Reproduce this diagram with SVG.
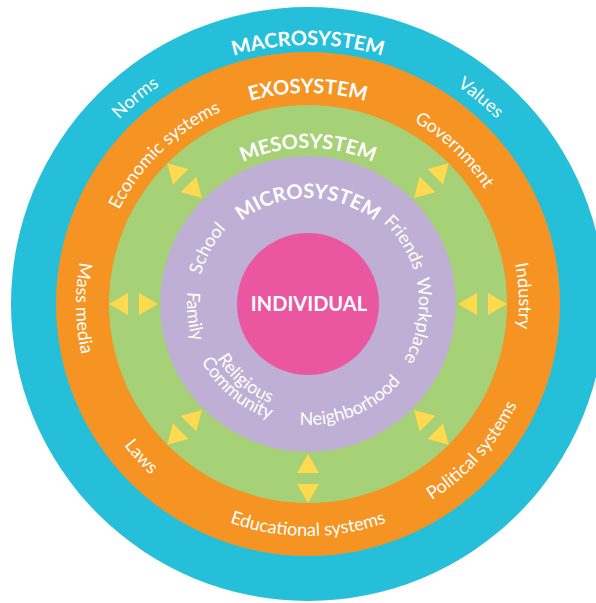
<svg xmlns="http://www.w3.org/2000/svg" xmlns:xlink="http://www.w3.org/1999/xlink" width="596" height="603" viewBox="0 0 596 603">
  <style>
    .head { font-family: Lato, "Liberation Sans", sans-serif; font-weight: 700; font-size: 20px; fill: #ffffff; }
    .lab { font-family: Lato, "Liberation Sans", sans-serif; font-weight: 400; font-size: 18px; fill: #ffffff; }
    .arrow { fill: #FFD94E; }
  </style>
  <defs>
    <!-- clockwise circles, start at bottom (top = 50%) -->
    <path id="cw259" d="M308,563 A259,259 0 1 1 308,45 A259,259 0 1 1 308,563"/>
    <path id="cw264" d="M308,568 A264,264 0 1 1 308,40 A264,264 0 1 1 308,568"/>
    <path id="cw211" d="M308,515 A211,211 0 1 1 308,93 A211,211 0 1 1 308,515"/>
    <path id="cw156" d="M308,460 A156,156 0 1 1 308,148 A156,156 0 1 1 308,460"/>
    <path id="cw106" d="M308,410 A106,106 0 1 1 308,198 A106,106 0 1 1 308,410"/>
    <path id="cw111" d="M308,415 A111,111 0 1 1 308,193 A111,111 0 1 1 308,415"/>
    <!-- counter-clockwise circles, start at top (bottom = 50%) -->
    <path id="ccw232" d="M308,72 A232,232 0 1 0 308,536 A232,232 0 1 0 308,72"/>
    <path id="ccw121" d="M308,183 A121,121 0 1 0 308,425 A121,121 0 1 0 308,183"/>
    <path id="ccw106" d="M308,198 A106,106 0 1 0 308,410 A106,106 0 1 0 308,198"/>
    <g id="pair">
      <polygon class="arrow" points="297,473 319,473 308,454"/>
      <polygon class="arrow" points="297,484 319,484 308,503"/>
    </g>
  </defs>

  <g id="macrosystem">
    <circle cx="308" cy="304" r="297" fill="#26BFD9"/>
    <text class="head"><textPath href="#cw259" startOffset="50%" text-anchor="middle">MACROSYSTEM</textPath></text>
    <text class="lab"><textPath href="#cw264" startOffset="38.9%" text-anchor="middle">Norms</textPath></text>
    <text class="lab"><textPath href="#cw264" startOffset="61.1%" text-anchor="middle">Values</textPath></text>
  </g>

  <g id="exosystem">
    <circle cx="308" cy="304" r="252" fill="#F59422"/>
    <text class="head"><textPath href="#cw211" startOffset="50%" text-anchor="middle">EXOSYSTEM</textPath></text>
    <text class="lab"><textPath href="#cw211" startOffset="37.8%" text-anchor="middle">Economic systems</textPath></text>
    <text class="lab"><textPath href="#cw211" startOffset="62.1%" text-anchor="middle">Government</textPath></text>
    <text class="lab"><textPath href="#cw211" startOffset="74.4%" text-anchor="middle">Industry</textPath></text>
    <text class="lab"><textPath href="#ccw232" startOffset="25.3%" text-anchor="middle">Mass media</textPath></text>
    <text class="lab"><textPath href="#ccw232" startOffset="36.8%" text-anchor="middle">Laws</textPath></text>
    <text class="lab"><textPath href="#ccw232" startOffset="50%" text-anchor="middle">Educational systems</textPath></text>
    <text class="lab"><textPath href="#ccw232" startOffset="63.4%" text-anchor="middle">Political systems</textPath></text>
  </g>

  <g id="mesosystem">
    <circle cx="308" cy="304" r="199" fill="#A6D176"/>
    <text class="head"><textPath href="#cw156" startOffset="50%" text-anchor="middle">MESOSYSTEM</textPath></text>
  </g>

  <g id="microsystem">
    <circle cx="308" cy="304" r="148" fill="#BFAFD4"/>
    <text class="head"><textPath href="#cw106" startOffset="50%" text-anchor="middle">MICROSYSTEM</textPath></text>
    <text class="lab"><textPath href="#cw111" startOffset="33%" text-anchor="middle">School</textPath></text>
    <text class="lab"><textPath href="#cw111" startOffset="66%" text-anchor="middle">Friends</textPath></text>
    <text class="lab"><textPath href="#cw111" startOffset="77.4%" text-anchor="middle">Workplace</textPath></text>
    <text class="lab"><textPath href="#ccw121" startOffset="26.7%" text-anchor="middle">Family</textPath></text>
    <text class="lab"><textPath href="#ccw106" startOffset="38.9%" text-anchor="middle">Religious</textPath></text>
    <text class="lab"><textPath href="#ccw121" startOffset="38.9%" text-anchor="middle">Community</textPath></text>
    <text class="lab"><textPath href="#ccw121" startOffset="56.4%" text-anchor="middle">Neighborhood</textPath></text>
  </g>

  <g id="individual">
    <circle cx="308" cy="304" r="71" fill="#EA57A0"/>
    <text class="head" x="309" y="311" font-size="20.5" text-anchor="middle">INDIVIDUAL</text>
  </g>

  <g id="connectors">
    <use href="#pair"/>
    <use href="#pair" transform="rotate(-45 308 304)"/>
    <use href="#pair" transform="rotate(-90 308 304)"/>
    <use href="#pair" transform="rotate(-135 308 304)"/>
    <use href="#pair" transform="rotate(45 308 304)"/>
    <use href="#pair" transform="rotate(90 308 304)"/>
    <use href="#pair" transform="rotate(135 308 304)"/>
  </g>
</svg>
